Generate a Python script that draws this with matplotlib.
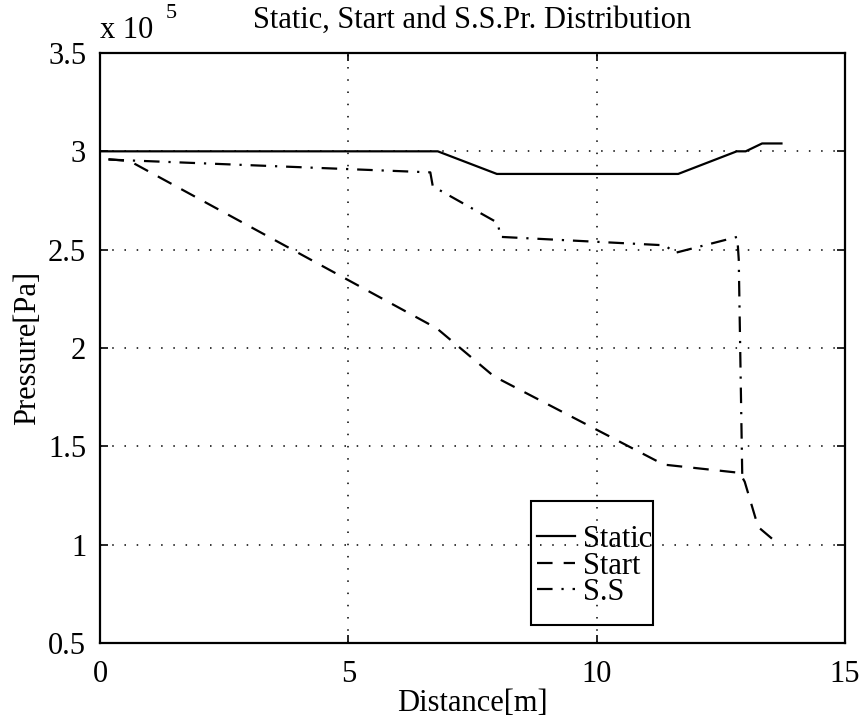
import matplotlib
matplotlib.use("Agg")
import matplotlib.pyplot as plt
from matplotlib.patches import Rectangle

plt.rcParams['font.family'] = ['Liberation Serif', 'DejaVu Serif']

# Values in units of 1e5 Pa
static_x = [0.0, 6.8, 7.99, 11.64, 12.82, 13.0, 13.33, 13.72]
static_y = [3.0, 3.0, 2.885, 2.885, 3.0, 3.0, 3.04, 3.04]

start_x = [0.17, 0.6, 6.78, 7.93, 11.35, 12.88, 12.98, 13.25, 13.55]
start_y = [2.96, 2.95, 2.10, 1.856, 1.407, 1.365, 1.32, 1.09, 1.026]

ss_x = [0.17, 6.65, 6.70, 8.01, 8.06, 11.38, 11.57, 12.83, 12.86, 12.93]
ss_y = [2.958, 2.893, 2.822, 2.636, 2.565, 2.522, 2.483, 2.565, 2.45, 1.36]

labels = ['Static', 'Start', 'S.S']
xticks = [0, 5, 10, 15]
yticks = [0.5, 1, 1.5, 2, 2.5, 3, 3.5]
ytick_labels = ['0.5', '1', '1.5', '2', '2.5', '3', '3.5']

fig = plt.figure(figsize=(8.6, 7.23), dpi=100)
ax = fig.add_axes([0.1163, 0.1107, 0.8663, 0.816])

fs = 22
ax.plot(static_x, static_y, color='black', lw=1.6, linestyle='-', label=labels[0])
ax.plot(start_x, start_y, color='black', lw=1.6, linestyle=(0, (7, 5)), label=labels[1])
ax.plot(ss_x, ss_y, color='black', lw=1.6, linestyle=(0, (7, 4, 1, 4)), label=labels[2])

ax.set_xlim(0, 15)
ax.set_ylim(0.5, 3.5)
ax.set_xticks(xticks)
ax.set_yticks(yticks)
ax.set_xticklabels([str(t) for t in xticks])
ax.set_yticklabels(ytick_labels)
ax.tick_params(direction='in', top=True, right=True, length=6, width=1.2, labelsize=fs)
ax.tick_params(axis='x', pad=12)
ax.tick_params(axis='y', pad=10)
ax.grid(True, color='black', linestyle=(0, (1, 7)), lw=1.1)
for s in ax.spines.values():
    s.set_linewidth(1.6)

ax.set_title('Static, Start and S.S.Pr. Distribution', fontsize=fs, pad=18)
ax.set_xlabel('Distance[m]', fontsize=fs, labelpad=0)
ax.set_ylabel('Pressure[Pa]', fontsize=fs, labelpad=4)

ax.text(0.0, 1.014, 'x 10', transform=ax.transAxes, fontsize=fs, ha='left', va='bottom')
ax.text(0.088, 1.05, '5', transform=ax.transAxes, fontsize=16, ha='left', va='bottom')

leg = ax.legend(loc='upper left', bbox_to_anchor=(0.5866, 0.20), fontsize=fs,
                frameon=False, handlelength=1.25, handletextpad=0.25,
                borderpad=0, labelspacing=-0.08, borderaxespad=0)
ax.add_patch(Rectangle((0.578, 0.0305), 0.164, 0.2107, transform=ax.transAxes,
                       fill=False, edgecolor='black', lw=1.5, zorder=6))

fig.savefig('out.png', dpi=100)
